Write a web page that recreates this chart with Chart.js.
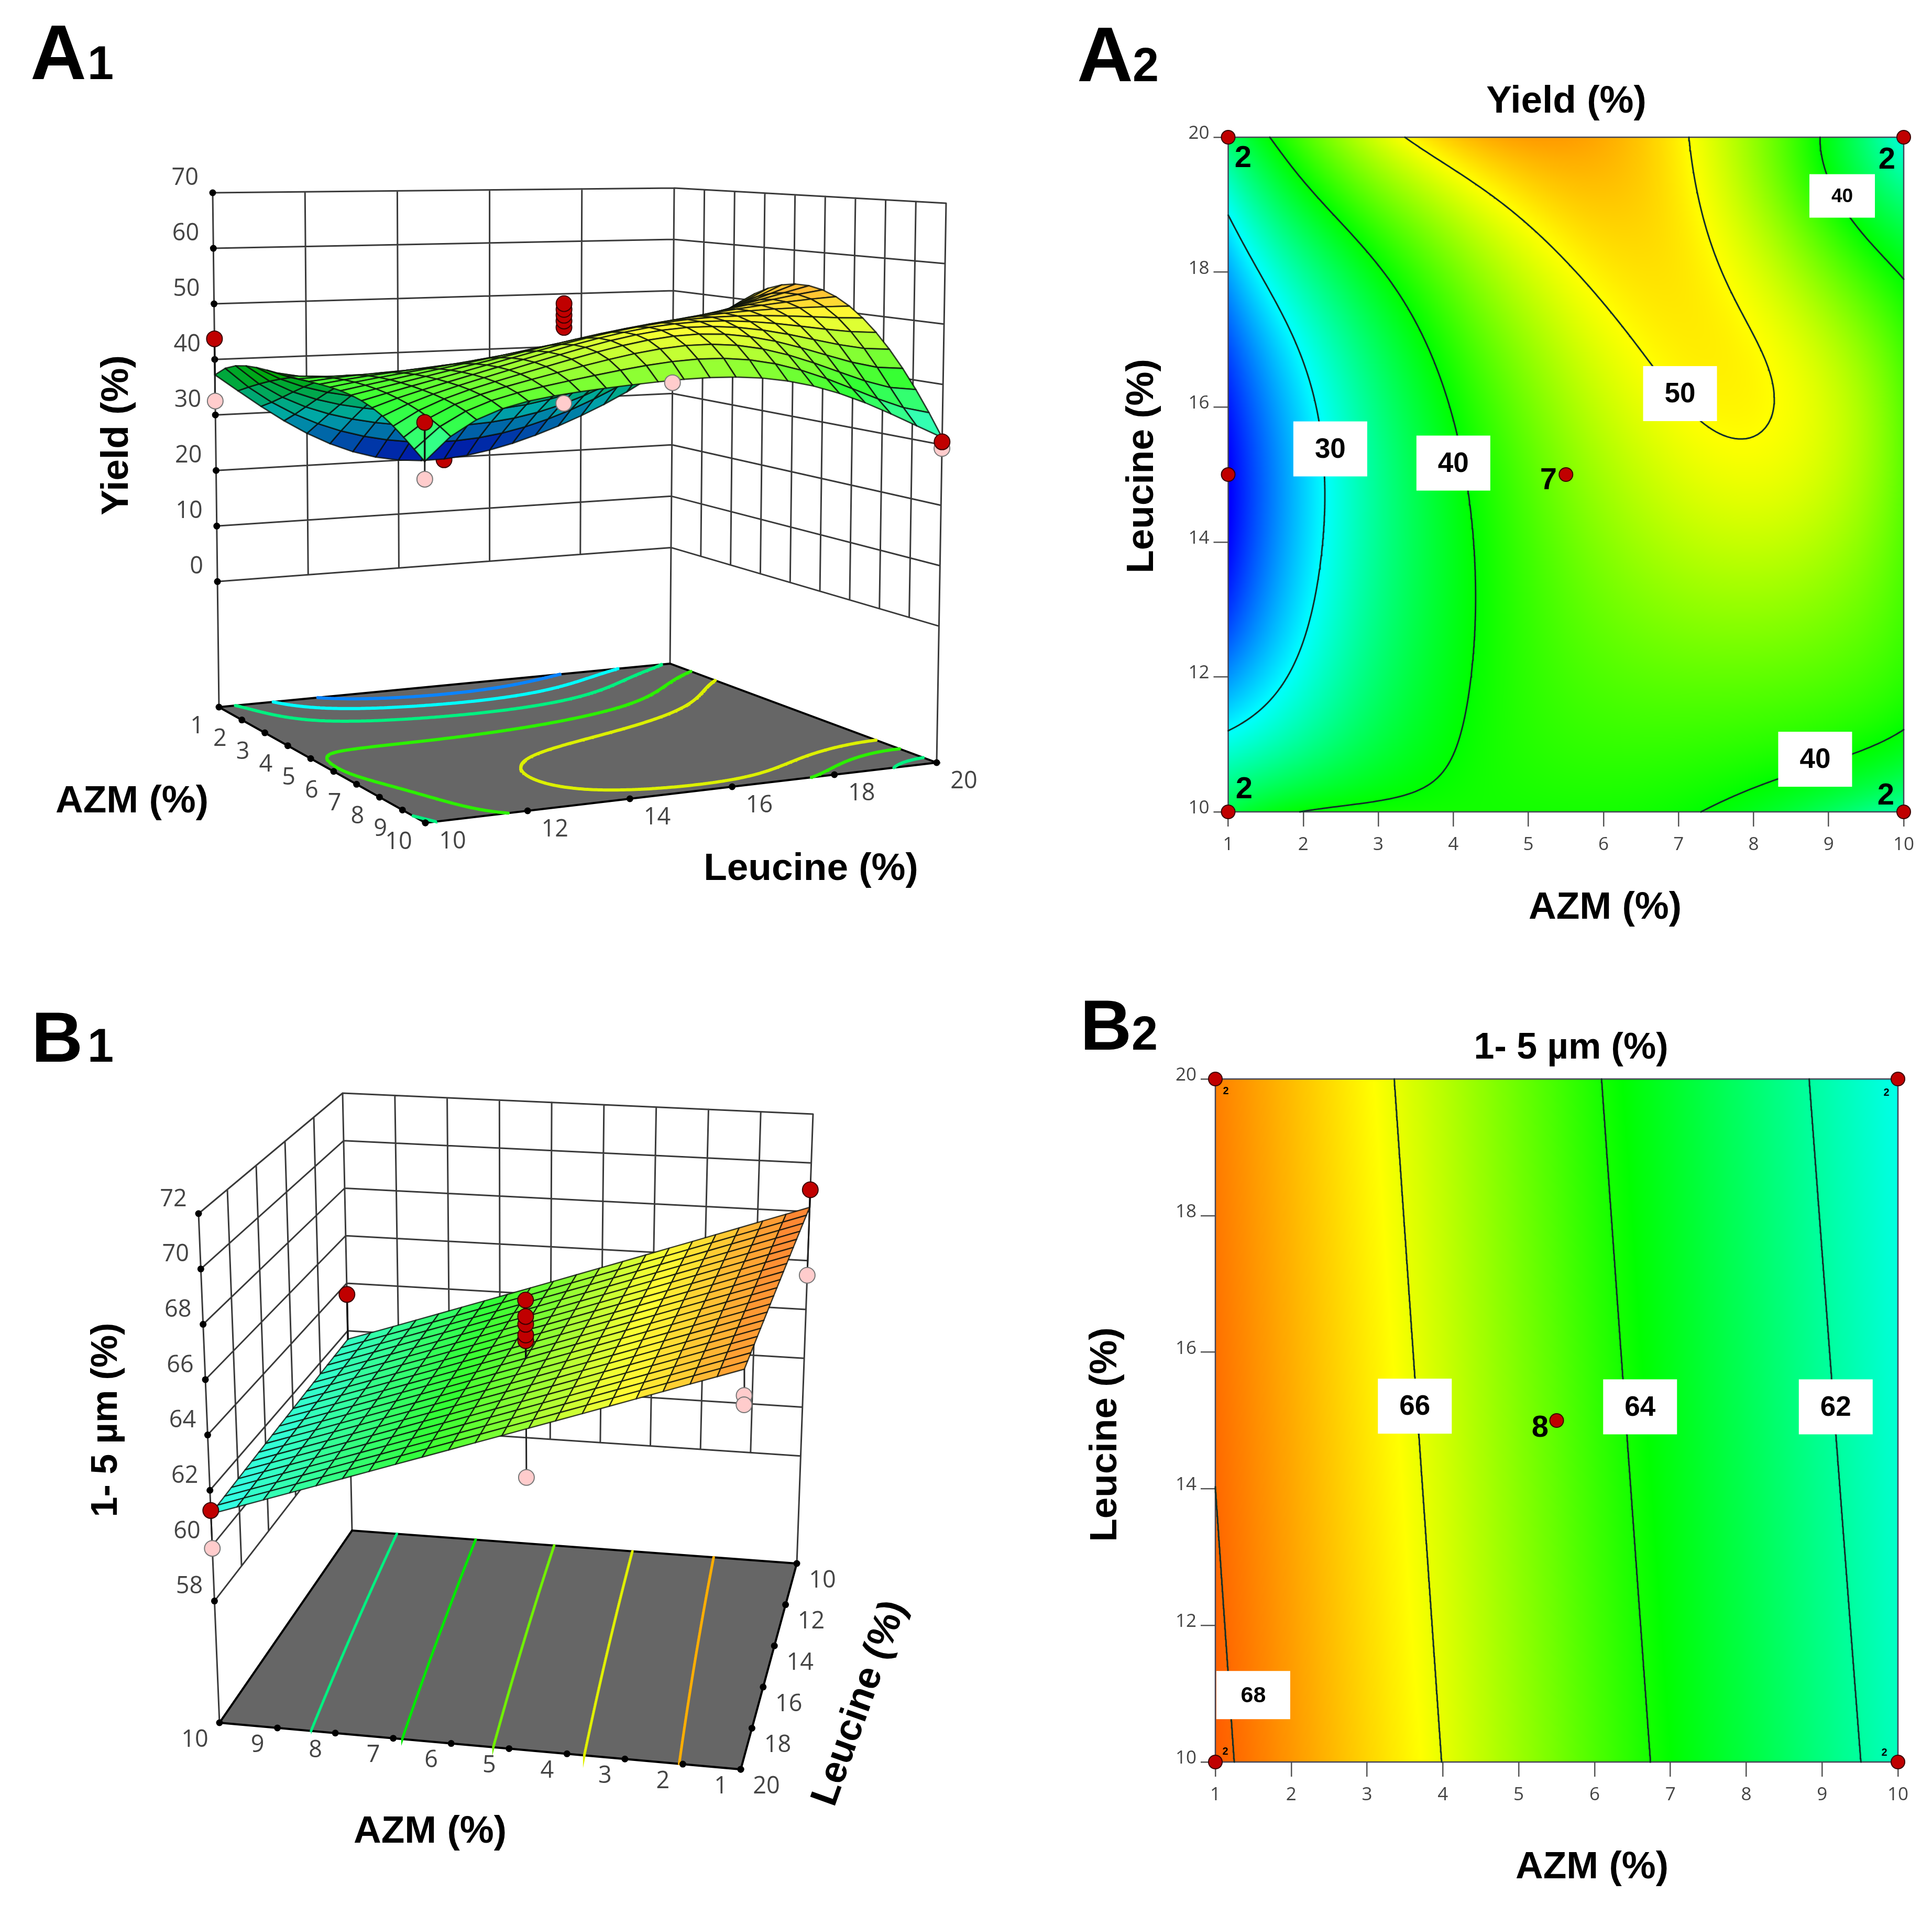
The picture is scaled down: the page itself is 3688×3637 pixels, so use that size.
<!doctype html>
<html><head><meta charset="utf-8">
<style>html,body{margin:0;padding:0;background:#fff}#page{position:relative;width:3688px;height:3637px;background:#fff;overflow:hidden}canvas{position:absolute}</style>
<script src="https://cdn.jsdelivr.net/npm/chart.js@4"></script>
</head><body><div id="page"></div>
<script>
// ---------- values ----------
const azmValues = [1,2,3,4,5,6,7,8,9,10];
const leucineValues = [10,11,12,13,14,15,16,17,18,19,20];
const leucineCoarse = [10,15,20];
const leucineTicks = [10,12,14,16,18,20];
const yieldTicks = [0,10,20,30,40,50,60,70];
const sizeTicks = [58,60,62,64,66,68,70,72];
// rows: Leucine 10..20, columns: AZM 1..10
const yieldGrid = [
 [37  ,40  ,40.6,40.6,40.7,40.6,40.5,38.8,36.4,33.2],
 [32  ,34.5,37.5,40.5,41.4,42  ,42  ,41.5,41  ,39.8],
 [25  ,31  ,35.8,39.2,41.5,43  ,44  ,44  ,43  ,41.3],
 [22  ,28.8,34.8,38.8,41.8,44  ,45.3,45.7,44.8,42.3],
 [20.5,28.2,34.5,39  ,42.5,45  ,46.9,47.9,46.5,43.5],
 [20  ,28  ,34.5,39.8,43.3,46.5,49  ,50.1,47.7,44  ],
 [21  ,28.8,35.5,41  ,44.5,47.3,50  ,50.9,47.8,43.5],
 [23  ,30.3,36  ,42  ,45.8,48.3,51  ,50  ,46.8,42  ],
 [26.5,34  ,40  ,44  ,48  ,50.6,51.5,48.5,44.5,39.5],
 [31  ,38.5,44  ,47.8,51.2,52.5,50.8,46.5,41.5,36  ],
 [36  ,43  ,48.5,51.5,54  ,54  ,50  ,45.5,39.5,31  ]];
// rows: Leucine 10,15,20, columns: AZM 1..10
const sizeGrid = [
 [68.2 ,67.45,66.7 ,66   ,65.25,64.5 ,63.8 ,63.1 ,62.35,61.65],
 [67.9 ,67.25,66.5 ,65.8 ,65.05,64.3 ,63.6 ,62.85,62.15,61.4 ],
 [67.75,67   ,66.25,65.5 ,64.8 ,64.05,63.35,62.6 ,61.85,61.15]];
// design points [AZM, Leucine, response]
const yieldAbove = [[1,10,43.7],[10,10,39.4],[10,20,30.5]];
const yieldCentre = [[5.5,15,48.4],[5.5,15,49.5],[5.5,15,50.5],[5.5,15,51.5],[5.5,15,52.5]];
const yieldBehind = [[1,15,19.6],[1,20,38]];
const yieldBelow = [[1,10,32.5],[10,10,30.6],[10,20,29.4],[5.5,15,35.3],[1,20,32.1]];
const sizeAbove = [[1,10,68.9],[10,10,63.53],[10,20,61.27],[5.5,15,65.34],[5.5,15,65.56],[5.5,15,65.97],[5.5,15,66.27],[5.5,15,66.9]];
const sizeBelow = [[1,10,65.4],[1,20,66.8],[1,20,66.47],[10,20,59.9],[5.5,15,60.09]];
const yieldDesign = [[1,10],[10,10],[1,20],[10,20],[1,15],[5.5,15]];
const sizeDesign = [[1,10],[10,10],[1,20],[10,20],[5.5,15]];
const yieldLevels = [30,40,50];
const sizeLevels = [62,64,66,68];
const yieldFloorLevels = [25,30,35,41,46];
const sizeFloorLevels = [62.3,63.45,64.6,65.75,66.95];
const yieldLabels = [[2.36,15.38,'30'],[4.0,15.17,'40'],[7.02,16.2,'50'],[8.82,10.78,'40'],[9.18,19.13,'40','s']];
const sizeLabels = [[3.63,15.21,'66'],[6.60,15.20,'64'],[9.18,15.20,'62'],[1.50,10.98,'68','s']];

// ---------- styling ----------
const yieldStops = [[20,[0,0,255]],[30,[0,255,255]],[40,[0,255,0]],[50,[255,255,0]],[60,[255,0,0]]];
const sizeStops = [[58.5,[0,0,255]],[60.9,[0,255,255]],[63.8,[0,255,0]],[66.2,[255,255,0]],[68,[255,105,0]],[69.5,[255,0,0]]];
const bold = s => 'bold '+s+'px "Liberation Sans", Arial, sans-serif';
const TICKF = '"Open Sans", sans-serif';
const RED='#c00000', REDB='#3a0000', PINK='#ffcccc', PINKB='#777';

function rgbOf(v, stops){
  if(v<=stops[0][0]) return stops[0][1];
  for(let i=1;i<stops.length;i++){ if(v<=stops[i][0]){
    const t=(v-stops[i-1][0])/(stops[i][0]-stops[i-1][0]), a=stops[i-1][1], b=stops[i][1];
    return [a[0]+(b[0]-a[0])*t,a[1]+(b[1]-a[1])*t,a[2]+(b[2]-a[2])*t]; } }
  return stops[stops.length-1][1];
}
const css = c => `rgb(${Math.round(c[0])},${Math.round(c[1])},${Math.round(c[2])})`;

function solve(A,n){
  for(let c=0;c<n;c++){let p=c;for(let r=c+1;r<n;r++)if(Math.abs(A[r][c])>Math.abs(A[p][c]))p=r;
    [A[c],A[p]]=[A[p],A[c]];
    for(let r=0;r<n;r++){if(r===c)continue;const m=A[r][c]/A[c][c];for(let k=c;k<=n;k++)A[r][k]-=m*A[c][k];}}
  return A.map((r,i)=>r[n]/r[i]);
}
// smooth least-squares reading of a read table, used only for shading and contour tracing
function shader(xs, ys, grid, dx, dy){
  const nb=(dx+1)*(dy+1);
  const basis=(a,l)=>{const u=(a-5.5)/4.5,v=(l-15)/5,out=[];let pu=1;
    for(let i=0;i<=dx;i++){let pv=1;for(let j=0;j<=dy;j++){out.push(pu*pv);pv*=v;}pu*=u;}return out;};
  const A=Array.from({length:nb},()=>new Array(nb+1).fill(0));
  ys.forEach((l,j)=>xs.forEach((a,i)=>{const b=basis(a,l);
    for(let r=0;r<nb;r++){for(let c=0;c<nb;c++)A[r][c]+=b[r]*b[c];A[r][nb]+=b[r]*grid[j][i];}}));
  const k=solve(A,nb);
  return (a,l)=>{const b=basis(a,l);let s=0;for(let i=0;i<nb;i++)s+=k[i]*b[i];return s;};
}
const yieldAt = shader(azmValues, leucineValues, yieldGrid, 5, 5);
const sizeAt = shader(azmValues, leucineCoarse, sizeGrid, 2, 1);

function contourSegs(f, level, nx, ny){
  const segs=[], dx=9/nx, dy=10/ny;
  const vals=[]; for(let j=0;j<=ny;j++){const r=[];for(let i=0;i<=nx;i++)r.push(f(1+i*dx,10+j*dy));vals.push(r);}
  for(let j=0;j<ny;j++)for(let i=0;i<nx;i++){
    const x0=1+i*dx,y0=10+j*dy,x1=x0+dx,y1=y0+dy;
    const c=[[x0,y0,vals[j][i]],[x1,y0,vals[j][i+1]],[x1,y1,vals[j+1][i+1]],[x0,y1,vals[j+1][i]]], pts=[];
    for(let k=0;k<4;k++){const p=c[k],q=c[(k+1)%4];
      if((p[2]<level)!==(q[2]<level)){const t=(level-p[2])/(q[2]-p[2]);pts.push([p[0]+(q[0]-p[0])*t,p[1]+(q[1]-p[1])*t]);}}
    if(pts.length>=2)segs.push([pts[0],pts[1]]);
    if(pts.length===4)segs.push([pts[2],pts[3]]);
  }
  return segs;
}
const segData = (segs,map)=>segs.flatMap(s=>[map(s[0]),map(s[1]),{x:NaN,y:NaN}]);

// frame mapping: box corners of each 3D frame on the page, at the floor and at the top of the box
function frameMap(frame, zLo, zHi){
  const mix=(p,q,t)=>[p[0]+(q[0]-p[0])*t,p[1]+(q[1]-p[1])*t];
  return (a,l,z)=>{
    const s=(a-1)/9,t=(l-10)/10,h=(z-zLo)/(zHi-zLo);
    const lo=mix(mix(frame.lo[0],frame.lo[1],s),mix(frame.lo[2],frame.lo[3],s),t);
    const hi=mix(mix(frame.hi[0],frame.hi[1],s),mix(frame.hi[2],frame.hi[3],s),t);
    const r=mix(lo,hi,h);return {x:r[0],y:r[1]};
  };
}

const textPlugin = {id:'pageText',afterDraw(chart){
  const o=chart.options.plugins.pageText; if(!o) return;
  const ctx=chart.ctx; ctx.save(); ctx.translate(-o.ox,-o.oy);
  o.items.forEach(t=>{ctx.save();ctx.translate(t.x,t.y);if(t.rot)ctx.rotate(t.rot*Math.PI/180);
    ctx.font=t.font;ctx.fillStyle=t.color||'#000';ctx.textAlign=t.align||'center';ctx.textBaseline=t.base||'middle';
    ctx.fillText(t.t,0,0);ctx.restore();});
  ctx.restore();
}};

function addCanvas(box){const c=document.createElement('canvas');c.width=box.w;c.height=box.h;
  c.style.left=box.x+'px';c.style.top=box.y+'px';c.style.width=box.w+'px';c.style.height=box.h+'px';
  document.getElementById('page').appendChild(c);return c;}
const baseOpts={responsive:false,animation:false,devicePixelRatio:1,events:[]};
function ordered(ds){return ds.map((d,i)=>Object.assign({order:1000-i,clip:false},d));}
const lineDs=(data,color,width,extra)=>Object.assign({data,showLine:true,borderColor:color,borderWidth:width,pointRadius:0,borderCapStyle:'round',fill:false,tension:0},extra||{});
const dotDs=(data,color,border,r,bw)=>({data,showLine:false,backgroundColor:color,borderColor:border,pointRadius:r,pointBorderWidth:bw||2,pointBackgroundColor:color,pointBorderColor:border});

// ---------- 3D panel ----------
function panel3D(cfg){
  const {box,cam,at,stops,floorZ}=cfg;
  const P=(a,l,z)=>cam(a,l,z);
  const seg=(p,q)=>[P(...p),P(...q),{x:NaN,y:NaN}];
  const walls=cfg.wallLines(seg);
  const floorEdge=[P(1,10,floorZ),P(10,10,floorZ),P(10,20,floorZ),P(1,20,floorZ),P(1,10,floorZ)];
  const N=20, centers=[];
  for(let j=0;j<N;j++)for(let i=0;i<N;i++){const a=1+9*(i+.5)/N,l=10+10*(j+.5)/N;centers.push(P(a,l,at(a,l)));}
  const surfaceDs=Object.assign(lineDs(centers,'rgba(0,0,0,0)',0),{showLine:false,isSurface:true});
  const contourDs=cfg.floorLevels.map((lv,i)=>lineDs(
    segData(contourSegs(at,lv,180,200),s=>P(s[0],s[1],floorZ)),cfg.floorColors[i],cfg.floorWidth));
  const stem=(arr)=>arr.flatMap(p=>seg([p[0],p[1],p[2]],[p[0],p[1],at(p[0],p[1])]));
  const toXY=arr=>arr.map(p=>P(p[0],p[1],p[2]));
  const dsList=ordered([
    lineDs(walls,'#3a3a3a',3),
    Object.assign(lineDs(floorEdge,'#000',4),{isFloor:true}),
    ...contourDs,
    lineDs(cfg.ticksDots(P),'#000',0,{showLine:false,pointRadius:6.5,pointBackgroundColor:'#000',pointBorderColor:'#000'}),
    lineDs(stem(cfg.below),'#222',3),
    dotDs(toXY(cfg.behind||[]),RED,REDB,15),
    surfaceDs,
    lineDs(stem(cfg.above),'#111',3.5),
    dotDs(toXY(cfg.below),PINK,PINKB,15),
    dotDs(toXY(cfg.above.concat(cfg.unstemmed||[])),RED,REDB,15),
  ]);
  const surfacePlugin={id:'surf',
    beforeDatasetDraw(chart,args){
      const d=chart.data.datasets[args.index]; if(!d.isFloor) return;
      const sx=chart.scales.x,sy=chart.scales.y,ctx=chart.ctx;
      ctx.save();ctx.beginPath();d.data.forEach((p,i)=>{const X=sx.getPixelForValue(p.x),Y=sy.getPixelForValue(p.y);i?ctx.lineTo(X,Y):ctx.moveTo(X,Y)});
      ctx.closePath();ctx.fillStyle='#666666';ctx.fill();ctx.restore();
    },
    afterDatasetDraw(chart,args){
      const d=chart.data.datasets[args.index]; if(!d.isSurface) return;
      const sx=chart.scales.x,sy=chart.scales.y,ctx=chart.ctx;
      const area=q=>{let s=0;for(let i=0;i<4;i++){const a=q[i],b=q[(i+1)%4];s+=a.x*b.y-b.x*a.y}return s};
      const floorSign=Math.sign(area([P(1,10,floorZ),P(10,10,floorZ),P(10,20,floorZ),P(1,20,floorZ)]));
      const quads=[];
      for(let j=0;j<N;j++)for(let i=0;i<N;i++){
        const a0=1+9*i/N,a1=1+9*(i+1)/N,l0=10+10*j/N,l1=10+10*(j+1)/N;
        const ac=(a0+a1)/2,lc=(l0+l1)/2,zc=at(ac,lc);
        const q=[P(a0,l0,at(a0,l0)),P(a1,l0,at(a1,l0)),P(a1,l1,at(a1,l1)),P(a0,l1,at(a0,l1))];
        quads.push({q,depth:cfg.depth((ac-1)/9,(lc-10)/10,zc),zc});
      }
      quads.sort((u,v)=>v.depth-u.depth);
      ctx.save();ctx.lineJoin='round';
      quads.forEach(o=>{
        const base=rgbOf(o.zc,stops),top=Math.sign(area(o.q))===floorSign;
        const c=top?base.map(v=>v+(255-v)*cfg.lift):base.map(v=>v*cfg.dim);
        ctx.beginPath();o.q.forEach((p,i)=>{const X=sx.getPixelForValue(p.x),Y=sy.getPixelForValue(p.y);i?ctx.lineTo(X,Y):ctx.moveTo(X,Y)});
        ctx.closePath();ctx.fillStyle=css(c);ctx.fill();ctx.strokeStyle='rgba(10,15,10,0.8)';ctx.lineWidth=cfg.meshWidth;ctx.stroke();
      });
      ctx.restore();
    }};
  new Chart(addCanvas(box),{type:'scatter',data:{datasets:dsList},plugins:[surfacePlugin,textPlugin],
    options:Object.assign({},baseOpts,{layout:{padding:0,autoPadding:false},
      scales:{x:{type:'linear',display:false,min:box.x,max:box.x+box.w},y:{type:'linear',display:false,reverse:true,min:box.y,max:box.y+box.h}},
      plugins:{legend:{display:false},tooltip:{enabled:false},title:{display:false},pageText:{ox:box.x,oy:box.y,items:cfg.texts(P)}}})});
}

// ---------- contour panel ----------
function panel2D(cfg){
  const {box,plot,at,stops}=cfg;
  const heat={id:'heat',beforeDatasetsDraw(chart){
    const sx=chart.scales.x,sy=chart.scales.y,ctx=chart.ctx;
    const L=sx.getPixelForValue(1),R=sx.getPixelForValue(10),T=sy.getPixelForValue(20),B=sy.getPixelForValue(10);
    const w=Math.round((R-L)/2),h=Math.round((B-T)/2);
    const off=document.createElement('canvas');off.width=w;off.height=h;const oc=off.getContext('2d'),img=oc.createImageData(w,h);
    for(let j=0;j<h;j++)for(let i=0;i<w;i++){
      const c=rgbOf(at(1+9*(i+.5)/w,20-10*(j+.5)/h),stops),k=(j*w+i)*4;
      img.data[k]=c[0];img.data[k+1]=c[1];img.data[k+2]=c[2];img.data[k+3]=255;}
    oc.putImageData(img,0,0);
    ctx.save();ctx.imageSmoothingEnabled=true;ctx.imageSmoothingQuality='high';ctx.drawImage(off,L,T,R-L,B-T);
    ctx.strokeStyle='#445';ctx.lineWidth=2.5;ctx.strokeRect(L,T,R-L,B-T);ctx.restore();
  },afterDatasetsDraw(chart){
    const sx=chart.scales.x,sy=chart.scales.y,ctx=chart.ctx;
    cfg.labels.forEach(b=>{const X=sx.getPixelForValue(b[0]),Y=sy.getPixelForValue(b[1]),sm=b[3]==='s';
      const bw=sm?cfg.smallBox[0]:141,bh=sm?cfg.smallBox[1]:105;
      ctx.fillStyle='#fff';ctx.fillRect(X-bw/2,Y-bh/2,bw,bh);
      ctx.fillStyle='#000';ctx.font=bold(sm?cfg.smallFont:53);ctx.textAlign='center';ctx.textBaseline='middle';ctx.fillText(b[2],X,Y+2);});
  }};
  const lines=cfg.levels.map(lv=>lineDs(segData(contourSegs(at,lv,180,200),s=>({x:s[0],y:s[1]})),'#12302a',3));
  const pts=dotDs(cfg.points.map(p=>({x:p[0],y:p[1]})),RED,REDB,13,2);
  const tickCommon=(len)=>({display:true,drawOnChartArea:false,drawTicks:true,tickLength:len,color:'#555',lineWidth:2.5});
  new Chart(addCanvas(box),{type:'scatter',data:{datasets:ordered([...lines,pts])},plugins:[heat,textPlugin],
    options:Object.assign({},baseOpts,{
      layout:{padding:{left:0,top:plot.t-box.y,right:box.x+box.w-plot.r,bottom:0},autoPadding:false},
      scales:{
        x:{type:'linear',min:1,max:10,grid:tickCommon(28),border:{display:false},
          ticks:{stepSize:1,autoSkip:false,maxRotation:0,padding:14,color:'#444',font:{family:TICKF,size:35}},
          afterFit(s){s.height=box.y+box.h-plot.b}},
        y:{type:'linear',min:10,max:20,grid:tickCommon(28),border:{display:false},
          ticks:{stepSize:2,autoSkip:false,padding:8,labelOffset:-7,color:'#444',font:{family:TICKF,size:35}},
          afterFit(s){s.width=plot.l-box.x}}},
      plugins:{legend:{display:false},tooltip:{enabled:false},title:{display:false},pageText:{ox:box.x,oy:box.y,items:cfg.texts}}})});
}

const panelLetter=(main,mx,mf,sub,sx,base)=>[
  {t:main,x:mx,y:base,font:bold(mf),align:'left',base:'alphabetic'},
  {t:sub,x:sx,y:base,font:bold(90),align:'left',base:'alphabetic'}];
const tickFont='45px '+TICKF, TC='#444';

// ---------- A1 ----------
const floorA=-22.6;
const frameA={lo:[[418,1350],[812,1571],[1279,1267],[1788,1456]],hi:[[406,368],[810,429],[1287,359],[1806,388]]};
panel3D({box:{x:0,y:0,w:1960,h:1800},cam:frameMap(frameA,floorA,70),at:yieldAt,stops:yieldStops,floorZ:floorA,
  floorLevels:yieldFloorLevels,floorColors:['#0a84ff','#00ffff','#00f080','#2cf000','#dcf000'],floorWidth:6,
  above:yieldAbove,unstemmed:yieldCentre,behind:yieldBehind,below:yieldBelow,lift:.2,dim:.66,meshWidth:2.7,
  depth:(an,ln,z)=>-(an*.93)+ln*.37-(z/70)*.28,
  wallLines(seg){const out=[];
    leucineTicks.forEach(l=>out.push(...seg([1,l,0],[1,l,70])));
    azmValues.forEach(a=>out.push(...seg([a,20,0],[a,20,70])));
    yieldTicks.forEach(z=>{out.push(...seg([1,10,z],[1,20,z]),...seg([1,20,z],[10,20,z]));});
    [[1,10],[1,20],[10,20]].forEach(c=>out.push(...seg([c[0],c[1],floorA],[c[0],c[1],0])));
    return out;},
  ticksDots(P){return [...yieldTicks.map(z=>P(1,10,z)),...azmValues.map(a=>P(a,10,floorA)),...leucineTicks.map(l=>P(10,l,floorA))];},
  texts(P){return [
    ...panelLetter('A',58,148,'1',167,151),
    {t:'Yield (%)',x:224,y:831,rot:-90,font:bold(73)},
    {t:'AZM (%)',x:252,y:1531,font:bold(73)},
    {t:'Leucine (%)',x:1548,y:1660,font:bold(73)},
    ...yieldTicks.map(z=>{const p=P(1,10,z);return {t:String(z),x:p.x-27,y:p.y-28,font:tickFont,color:TC,align:'right'}}),
    ...azmValues.map(a=>{const p=P(a,10,floorA);return {t:String(a),x:p.x-(a===10?51:42),y:p.y+37,font:tickFont,color:TC}}),
    ...leucineTicks.map(l=>{const p=P(10,l,floorA);return {t:String(l),x:p.x+52,y:p.y+36,font:tickFont,color:TC}}),
  ];}});

// ---------- A2 ----------
panel2D({box:{x:1960,y:0,w:1728,h:1800},plot:{l:2344.5,r:3634,t:262,b:1550},at:yieldAt,stops:yieldStops,
  levels:yieldLevels,labels:yieldLabels,points:yieldDesign,smallBox:[125,83],smallFont:37,
  texts:[...panelLetter('A',2056,148,'2',2162,155),
    {t:'Yield (%)',x:2990,y:195,font:bold(73)},
    {t:'AZM (%)',x:3064,y:1734,font:bold(73)},
    {t:'Leucine (%)',x:2181,y:890,rot:-90,font:bold(73)},
    {t:'2',x:2373,y:303,font:bold(58)},{t:'2',x:3602,y:306,font:bold(58)},
    {t:'2',x:2375,y:1508,font:bold(58)},{t:'2',x:3600,y:1520,font:bold(58)},
    {t:'7',x:2956,y:918,font:bold(58)}]});

// ---------- B1 ----------
const floorB=53.6;
const frameB={lo:[[1521,2985],[672,2922],[1414,3378],[419,3289]],hi:[[1552,2127],[654,2087],[1423,2383],[379,2317]]};
panel3D({box:{x:0,y:1800,w:1960,h:1837},cam:frameMap(frameB,floorB,72),at:sizeAt,stops:sizeStops,floorZ:floorB,
  floorLevels:sizeFloorLevels,floorColors:['#00f080','#00e800','#70f000','#e0f000','#ffae00'],floorWidth:5,
  above:sizeAbove,below:sizeBelow,lift:.2,dim:.7,meshWidth:2.4,
  depth:(an,ln,z)=>-(ln*.97)+an*.2,
  wallLines(seg){const out=[];
    azmValues.forEach(a=>out.push(...seg([a,10,58],[a,10,72])));
    leucineTicks.forEach(l=>out.push(...seg([10,l,58],[10,l,72])));
    sizeTicks.forEach(z=>{out.push(...seg([10,20,z],[10,10,z]),...seg([10,10,z],[1,10,z]));});
    [[10,20],[10,10],[1,10]].forEach(c=>out.push(...seg([c[0],c[1],floorB],[c[0],c[1],58])));
    return out;},
  ticksDots(P){return [...sizeTicks.map(z=>P(10,20,z)),...azmValues.map(a=>P(a,20,floorB)),...leucineTicks.map(l=>P(1,l,floorB))];},
  texts(P){return [
    ...panelLetter('B',60,136,'1',167,2027),
    {t:'1- 5 µm (%)',x:204,y:2711,rot:-90,font:bold(70)},
    {t:'AZM (%)',x:821,y:3498,font:bold(73)},
    {t:'Leucine (%)',x:1642,y:3252,rot:-70.4,font:bold(73)},
    ...sizeTicks.map(z=>{const p=P(10,20,z);return {t:String(z),x:p.x-48,y:p.y-27,font:tickFont,color:TC}}),
    ...azmValues.map(a=>{const p=P(a,20,floorB);return {t:String(a),x:p.x-(a===10?47:38),y:p.y+33,font:tickFont,color:TC}}),
    ...leucineTicks.map(l=>{const p=P(1,l,floorB);return {t:String(l),x:p.x+49,y:p.y+33,font:tickFont,color:TC}}),
  ];}});

// ---------- B2 ----------
panel2D({box:{x:1960,y:1800,w:1728,h:1837},plot:{l:2320,r:3623,t:2060,b:3364},at:sizeAt,stops:sizeStops,
  levels:sizeLevels,labels:sizeLabels,points:sizeDesign,smallBox:[141,92],smallFont:43,
  texts:[...panelLetter('B',2062,136,'2',2160,2004),
    {t:'1- 5 µm (%)',x:2999,y:2002,font:bold(70)},
    {t:'AZM (%)',x:3039,y:3566,font:bold(73)},
    {t:'Leucine (%)',x:2111,y:2739,rot:-90,font:bold(73)},
    {t:'2',x:2340,y:2083,font:bold(20)},{t:'2',x:3601,y:2086,font:bold(20)},
    {t:'2',x:2339,y:3344,font:bold(20)},{t:'2',x:3597,y:3346,font:bold(20)},
    {t:'8',x:2940,y:2727,font:bold(58)}]});
</script></body></html>
